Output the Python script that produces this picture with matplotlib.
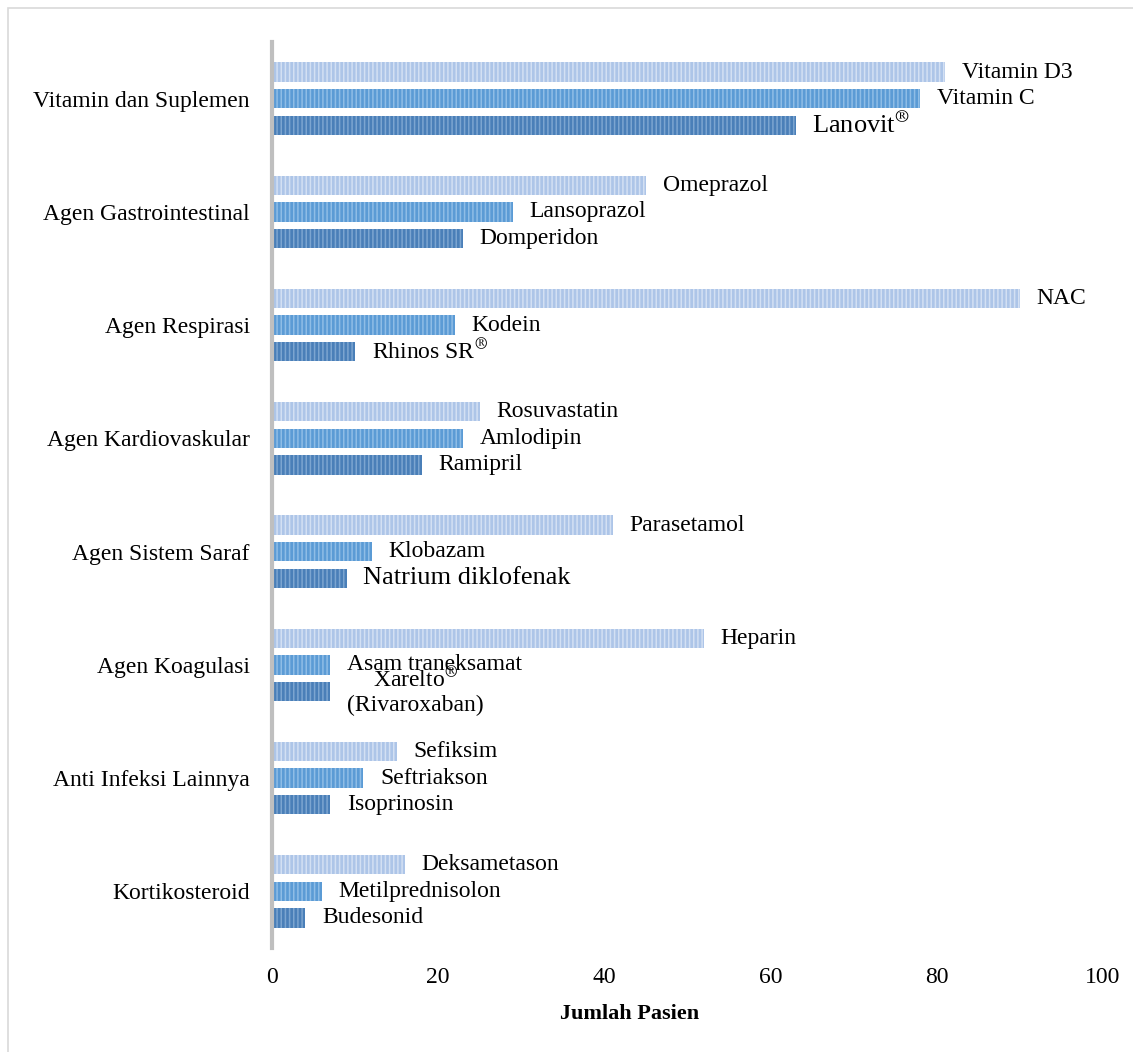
import numpy as np
import matplotlib.pyplot as plt
from matplotlib.patches import Rectangle

# categories from top to bottom
categories = ['Vitamin dan Suplemen', 'Agen Gastrointestinal', 'Agen Respirasi',
              'Agen Kardiovaskular', 'Agen Sistem Saraf', 'Agen Koagulasi',
              'Anti Infeksi Lainnya', 'Kortikosteroid']

# top bar (light), middle bar, bottom bar (dark) of each group
top_names = ['Vitamin D3', 'Omeprazol', 'NAC', 'Rosuvastatin', 'Parasetamol',
             'Heparin', 'Sefiksim', 'Deksametason']
top_vals = [81, 45, 90, 25, 41, 52, 15, 16]

mid_names = ['Vitamin C', 'Lansoprazol', 'Kodein', 'Amlodipin', 'Klobazam',
             'Asam traneksamat', 'Seftriakson', 'Metilprednisolon']
mid_vals = [78, 29, 22, 23, 12, 7, 11, 6]

bot_names = [r'Lanovit$^{\circledR}$', 'Domperidon', r'Rhinos SR$^{\circledR}$', 'Ramipril',
             'Natrium diklofenak', 'Xarelto$^{\\circledR}$\n(Rivaroxaban)', 'Isoprinosin', 'Budesonid']
bot_vals = [63, 23, 10, 18, 9, 7, 7, 4]

xticks = [0, 20, 40, 60, 80, 100]

plt.rcParams['font.family'] = 'Liberation Serif'
plt.rcParams['mathtext.fontset'] = 'stix'
plt.rcParams['hatch.linewidth'] = 1.1

fig = plt.figure(figsize=(11.33, 10.52), dpi=100)
ax = fig.add_axes([272 / 1133, 1 - 948 / 1052, (1103 - 272) / 1133, (948 - 42) / 1052])

# light border around the whole chart
fig.patches.append(Rectangle((8 / 1133, -0.1), 1.2, 1.1 - 8 / 1052, transform=fig.transFigure,
                             fill=False, edgecolor='#d9d9d9', linewidth=1.2))

y = np.arange(len(categories))[::-1] + 0.5
off = 0.235
h = 0.17

series = [(top_vals, top_names, y + off, '#adc5e8', '#d3e0f3'),
          (mid_vals, mid_names, y, '#5b9bd5', '#8fbde6'),
          (bot_vals, bot_names, y - off, '#4a7fb8', '#7ca5d0')]

for vals, names, ypos, col, hcol in series:
    ax.barh(ypos, vals, height=h, color=col, edgecolor=hcol, linewidth=0,
            hatch='||||')
    for v, n, yy in zip(vals, names, ypos):
        size = 17
        if n.startswith('Lanovit') or n.startswith('Natrium'):
            size = 19
        if '\n' in n:
            ax.text(v + 2, yy, n, fontsize=17, va='center', ha='left',
                    multialignment='center')
        else:
            ax.text(v + 2, yy, n, fontsize=size, va='center', ha='left')

ax.set_ylim(0, len(categories))
ax.set_xlim(0, 100)
ax.set_yticks(y)
ax.set_yticklabels(categories, fontsize=17)
ax.set_xticks(xticks)
ax.set_xticklabels([str(t) for t in xticks], fontsize=17)
ax.tick_params(axis='both', length=0)
ax.tick_params(axis='y', pad=16)
ax.tick_params(axis='x', pad=14)
ax.set_xlabel('Jumlah Pasien', fontsize=16, fontweight='bold')
ax.xaxis.set_label_coords((630 - 272) / 831, -0.062)

for s in ['top', 'right', 'bottom']:
    ax.spines[s].set_visible(False)
ax.spines['left'].set_color('#bfbfbf')
ax.spines['left'].set_linewidth(3)

fig.savefig('out.png', dpi=100)
